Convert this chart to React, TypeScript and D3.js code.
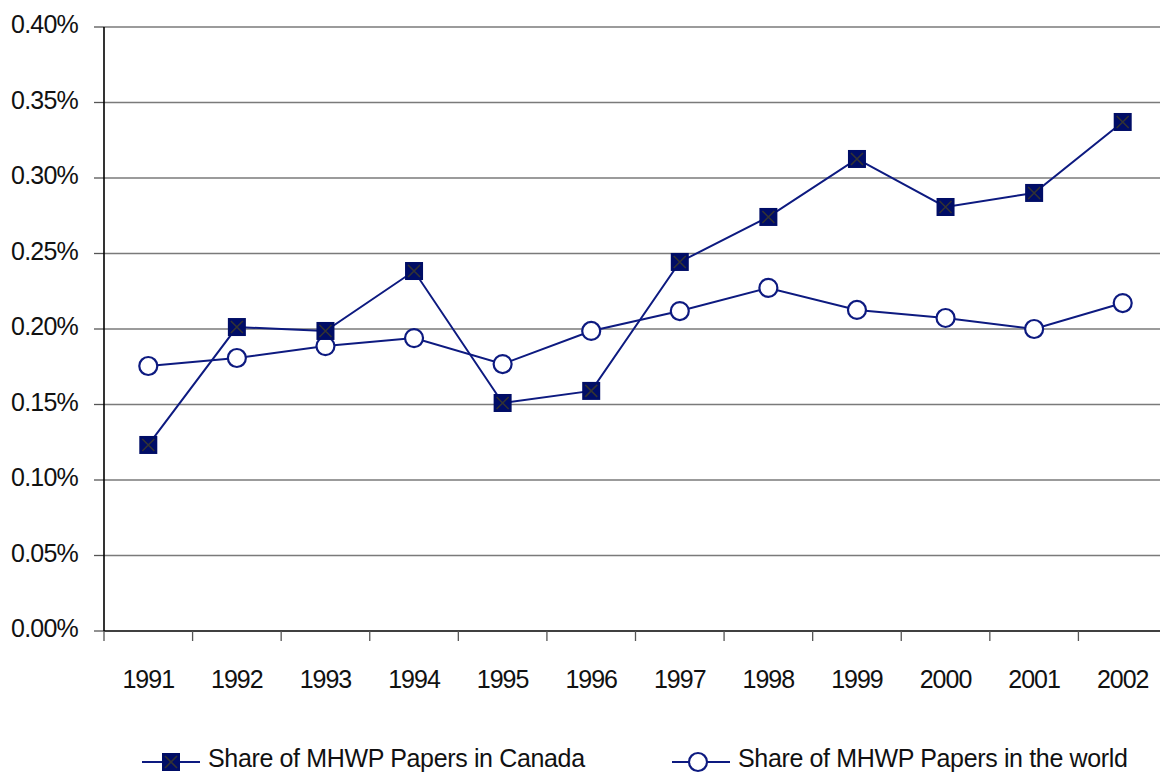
import React from "react";
import * as d3 from "d3";

const years = ["1991","1992","1993","1994","1995","1996","1997","1998","1999","2000","2001","2002"];
const canada = [0.1232,0.2013,0.1987,0.2384,0.151,0.159,0.2444,0.2742,0.3126,0.2808,0.2901,0.3371];
const world = [0.1755,0.1808,0.1887,0.194,0.1768,0.1987,0.2119,0.2272,0.2126,0.2073,0.2,0.2172];
const yTicks = [0,0.05,0.1,0.15,0.2,0.25,0.3,0.35,0.4];
const seriesNames = ["Share of MHWP Papers in Canada","Share of MHWP Papers in the world"];

const W = 1160, H = 775;
const left = 104, right = 1167, top = 27, bottom = 631;
const navy = "#0d1a80";
const font = "'Liberation Sans', Arial, sans-serif";

export default function App() {
  const x = d3.scaleBand().domain(years).range([left, right]);
  const y = d3.scaleLinear().domain([0, 0.4]).range([bottom, top]);
  const cx = (yr: string) => (x(yr) as number) + x.bandwidth() / 2;
  const line = d3.line<number>().x((_, i) => cx(years[i])).y(d => y(d));
  const ms = 9;
  const Square = ({ px, py }: { px: number; py: number }) => (
    <g>
      <rect x={px - ms} y={py - ms} width={ms * 2} height={ms * 2} fill="#000d66" />
      <path d={`M${px - 6},${py - 6}L${px + 6},${py + 6}M${px + 6},${py - 6}L${px - 6},${py + 6}`} stroke="#333" strokeWidth={1.6} />
    </g>
  );
  const Circle = ({ px, py }: { px: number; py: number }) => (
    <circle cx={px} cy={py} r={9} fill="#fff" stroke={navy} strokeWidth={2.2} />
  );
  const ly = 762;
  return (
    <svg width={W} height={H} style={{ position: "absolute", left: 0, top: 0, background: "#fff" }} fontFamily={font}>
      {yTicks.map(t => (
        <g key={t}>
          {t > 0 && <line x1={left} x2={W} y1={y(t)} y2={y(t)} stroke="#7a7a7a" strokeWidth={1.5} />}
          <line x1={94} x2={left} y1={y(t)} y2={y(t)} stroke="#555" strokeWidth={1.3} />
          <text x={78} y={y(t) + 6} textAnchor="end" fontSize={25} letterSpacing={-0.8} fill="#111">
            {d3.format(".2f")(t) + "%"}
          </text>
        </g>
      ))}
      <line x1={left} x2={left} y1={top} y2={bottom} stroke="#000" strokeWidth={1.6} />
      <line x1={left} x2={W} y1={bottom} y2={bottom} stroke="#000" strokeWidth={1.6} />
      {years.map((yr) => (
        <g key={yr}>
          <line x1={(x(yr) as number)} x2={(x(yr) as number)} y1={bottom} y2={bottom + 10} stroke="#555" strokeWidth={1.3} />
          <text x={cx(yr)} y={688} textAnchor="middle" fontSize={25} letterSpacing={-1} fill="#111">{yr}</text>
        </g>
      ))}
      <path d={line(world) || ""} fill="none" stroke={navy} strokeWidth={2} />
      <path d={line(canada) || ""} fill="none" stroke={navy} strokeWidth={2} />
      {world.map((v, i) => <Circle key={"w" + i} px={cx(years[i])} py={y(v)} />)}
      {canada.map((v, i) => <Square key={"c" + i} px={cx(years[i])} py={y(v)} />)}
      <g>
        <line x1={142} x2={200} y1={ly} y2={ly} stroke={navy} strokeWidth={2} />
        <Square px={171} py={ly} />
        <text x={208} y={767} fontSize={25} letterSpacing={-0.35} fill="#111">{seriesNames[0]}</text>
        <line x1={672} x2={730} y1={ly} y2={ly} stroke={navy} strokeWidth={2} />
        <Circle px={698} py={ly} />
        <text x={738} y={767} fontSize={25} letterSpacing={-0.35} fill="#111">{seriesNames[1]}</text>
      </g>
    </svg>
  );
}
